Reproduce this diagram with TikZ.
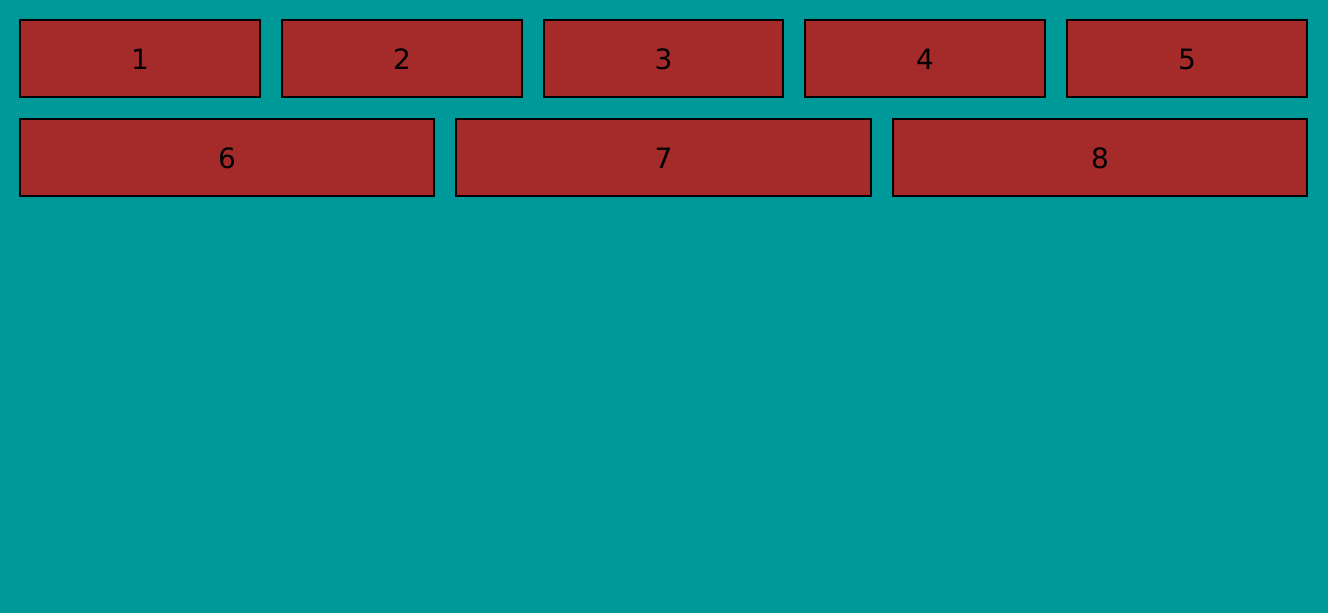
\documentclass[tikz,border=0pt]{standalone}
\usepackage{fontspec}
\setmainfont{DejaVu Sans}
\definecolor{bg}{RGB}{0,153,153}
\definecolor{boxc}{RGB}{165,42,42}
\begin{document}
\begin{tikzpicture}[x=1pt,y=-1pt,
  cell/.style={draw=black,line width=1.6pt,fill=boxc},
  lbl/.style={inner sep=0pt,font=\fontsize{28}{32}\selectfont}]
\fill[bg] (0,0) rectangle (1328,613);
\useasboundingbox (0,0) rectangle (1328,613);
\newcommand{\cellbox}[6]{%
  \draw[cell] (#2,#3) rectangle (#4,#5);
  \node[lbl] (#1) at ({(#2+#4)/2},{(#3+#5)/2+1}) {#6};}
\cellbox{n1}{20}{20}{260}{97}{1}
\cellbox{n2}{282}{20}{522}{97}{2}
\cellbox{n3}{544}{20}{783}{97}{3}
\cellbox{n4}{805}{20}{1045}{97}{4}
\cellbox{n5}{1067}{20}{1307}{97}{5}
\cellbox{n6}{20}{119}{434}{196}{6}
\cellbox{n7}{456}{119}{871}{196}{7}
\cellbox{n8}{893}{119}{1307}{196}{8}
\end{tikzpicture}
\end{document}
